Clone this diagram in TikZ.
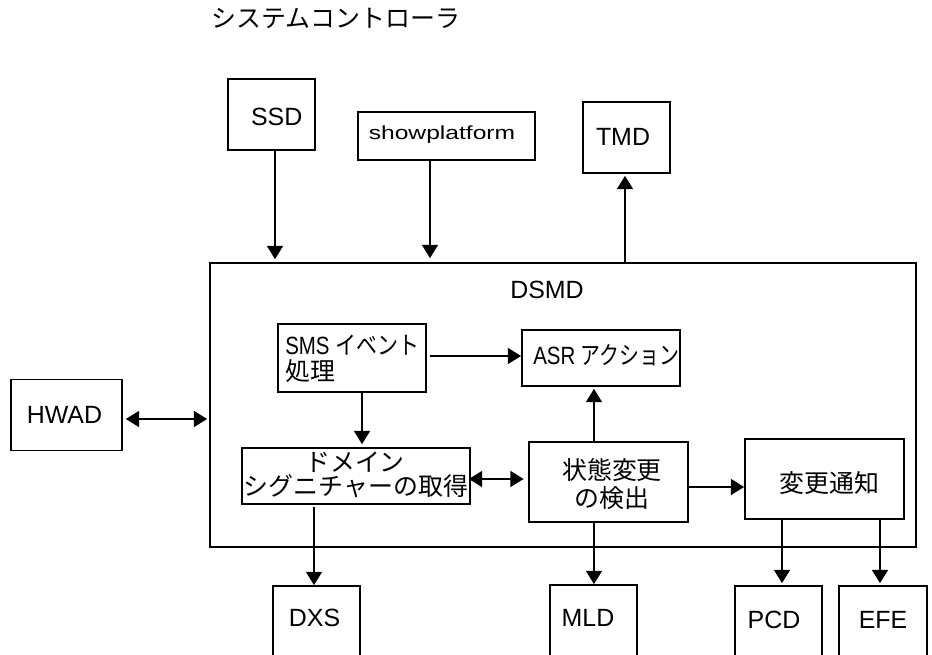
\documentclass[tikz,border=0pt]{standalone}
\usepackage{fontspec}
\setmainfont{Liberation Sans}
\newfontfamily\cjk{Noto Sans CJK JP}
\usetikzlibrary{arrows.meta}
\tikzset{
  boxs/.style={draw=black,line width=1.3pt,inner sep=0pt,rectangle},
  lbl/.style={inner sep=0pt,font=\fontsize{18.7pt}{18pt}\selectfont},
  jp/.style={inner sep=0pt,font=\cjk\fontsize{18.7pt}{18pt}\selectfont},
  arr/.style={line width=1.3pt,-{Triangle[length=10pt,width=12pt]}},
  biarr/.style={line width=1.3pt,{Triangle[length=10pt,width=12pt]}-{Triangle[length=10pt,width=12pt]}}
}
\newcommand{\bx}[5]{\node[boxs,minimum width=#4*.75pt,minimum height=#5*.75pt] (#1) at (#2,#3) {};}
\begin{document}
\begin{tikzpicture}[x=.75pt,y=-.75pt]
\clip (0,0) rectangle (932,655);
% boxes: name, centre x, centre y, width, height
\bx{ssd}{271.5}{114.5}{87}{71}
\bx{show}{446.5}{136}{177}{48}
\bx{tmd}{626.5}{137.5}{87}{71}
\bx{dsmd}{563}{405}{706}{284}
\bx{sms}{352}{358}{148}{68}
\bx{asr}{601}{358}{158}{56}
\bx{dom}{356}{476}{228}{56}
\bx{state}{608.5}{482}{159}{80}
\bx{notify}{824.5}{479}{159}{80}
\bx{hwad}{66.5}{415}{111}{71}
\bx{dxs}{316.5}{636}{87}{100}
\bx{mld}{593.5}{635}{87}{100}
\bx{pcd}{778.5}{636}{87}{100}
\bx{efe}{883}{636}{88}{100}
% texts
\node[jp] (title) at (336,18) {システムコントローラ};
\node[lbl] (tssd) at (276.7,117) {SSD};
\node[lbl,font=\fontsize{14.2pt}{16pt}\selectfont] (tshow) at (442,135) {\scalebox{1.3}[1]{showplatform}};
\node[lbl] (ttmd) at (623,137) {TMD};
\node[lbl] (tdsmd) at (547,290) {DSMD};
\node[lbl] (thwad) at (64.5,415) {HWAD};
\node[lbl] (tdxs) at (314.5,618) {DXS};
\node[lbl] (tmld) at (588,618) {MLD};
\node[lbl] (tpcd) at (774,620) {PCD};
\node[lbl] (tefe) at (883,620) {EFE};
\node[lbl,anchor=west,align=left,font=\fontsize{18.7pt}{19.5pt}\selectfont] (tsms) at (285,359) {\scalebox{.82}[1]{SMS}\hspace{.25em}\scalebox{.84}[1]{\cjk イベント}\\{\cjk 処理}};
\node[lbl,anchor=west] (tasr) at (533,355) {\scalebox{.82}[1]{ASR}\hspace{.2em}\scalebox{.8}[1]{\cjk アクション}};
\node[jp] (tdom) at (355,462) {ドメイン};
\node[jp] (tdom2) at (356,486) {シグニチャーの取得};
\node[jp] (tstate) at (612,470) {状態変更};
\node[jp] (tstate2) at (612,498) {の検出};
\node[jp] (tnotify) at (829.5,483) {変更通知};
% connectors
\draw[arr,shorten >=2.2pt] (275,0 |- ssd.south) -- (275,0 |- dsmd.north);
\draw[arr,shorten >=3pt] (430,0 |- show.south) -- (430,0 |- dsmd.north);
\draw[arr,shorten >=1.5pt] (625,0 |- dsmd.north) -- (625,0 |- tmd.south);
\draw[biarr,shorten <=2.2pt,shorten >=1.5pt] (hwad.east |- 0,419) -- (dsmd.west |- 0,419);
\draw[arr,shorten <=2.2pt] (sms.east |- 0,356) -- (asr.west |- 0,356);
\draw[arr,shorten >=2.2pt] (362,0 |- sms.south) -- (362,0 |- dom.north);
\draw[biarr,shorten <=-1.5pt,shorten >=3.4pt] (dom.east |- 0,479) -- (state.west |- 0,479);
\draw[arr,shorten >=1.5pt] (594,0 |- state.north) -- (594,0 |- asr.south);
\draw[arr] (state.east |- 0,487) -- (notify.west |- 0,487);
\draw[arr,shorten <=1.5pt] (314,0 |- dom.south) -- (314,0 |- dxs.north);
\draw[arr] (594,0 |- state.south) -- (594,0 |- mld.north);
\draw[arr,shorten >=1.5pt] (782,0 |- notify.south) -- (782,0 |- pcd.north);
\draw[arr,shorten >=1.5pt] (880,0 |- notify.south) -- (880,0 |- efe.north);
\end{tikzpicture}
\end{document}
